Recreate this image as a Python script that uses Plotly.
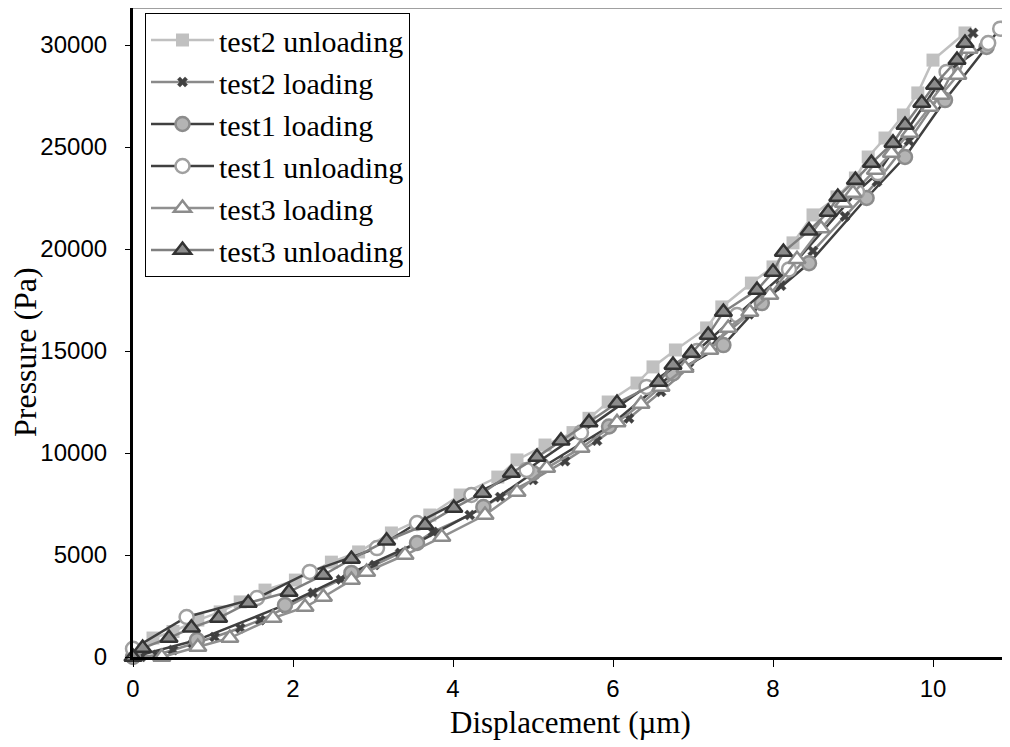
import plotly.graph_objects as go

# ---- data (Displacement in µm, Pressure in Pa) ----
t2u_x = [0.25, 0.5, 0.81, 1.09, 1.34, 1.65, 2.03, 2.48, 2.82, 3.23, 3.71, 4.09, 4.56, 4.8, 5.15, 5.5, 5.7, 5.94,
         6.3, 6.5, 6.78, 7.17, 7.36, 7.73, 8.0, 8.25, 8.5, 8.8, 9.03, 9.19, 9.4, 9.63, 9.81, 10.0, 10.4]
t2u_y = [930, 1250, 1810, 2210, 2700, 3280, 3770, 4650, 5150, 6080, 6960, 7940, 8820, 9660, 10390, 11000, 11700, 12500,
         13430, 14220, 15050, 16130, 17160, 18330, 19120, 20300, 21670, 22550, 23480, 24510, 25440, 26570, 27650, 29260, 30590]

t2l_x = [0.1, 0.3, 0.5, 0.75, 1.02, 1.34, 1.59, 1.9, 2.25, 2.6, 3.02, 3.34, 3.75, 4.21, 4.59, 5.0, 5.4, 5.8,
         6.2, 6.6, 6.95, 7.3, 7.7, 8.1, 8.5, 8.9, 9.3, 9.7, 10.1, 10.5]
t2l_y = [0, 100, 340, 650, 980, 1420, 1810, 2400, 3140, 3800, 4510, 5100, 6130, 6960, 7840, 8680, 9600, 10600,
         11700, 13000, 14200, 15500, 16800, 18200, 19900, 21600, 23300, 25300, 27600, 30590]

t1l_x = [0.0, 0.8, 1.9, 2.73, 3.55, 4.38, 5.0, 5.95, 6.75, 7.38, 7.86, 8.45, 9.17, 9.65, 10.15, 10.67]
t1l_y = [0, 830, 2550, 4120, 5590, 7350, 9020, 11300, 13900, 15290, 17350, 19300, 22500, 24510, 27300, 29900]

t1u_x = [0.0, 0.67, 1.55, 2.21, 3.05, 3.55, 4.23, 4.92, 5.6, 6.42, 7.05, 7.55, 8.2, 9.05, 9.31, 10.17, 10.69, 10.84]
t1u_y = [400, 1960, 2890, 4170, 5340, 6570, 7940, 9170, 11000, 13240, 15000, 16760, 19000, 22800, 23720, 28680, 30100, 30800]

t3l_x = [0.36, 0.81, 1.21, 1.75, 2.15, 2.38, 2.73, 2.92, 3.4, 3.86, 4.4, 4.8, 5.17, 5.6, 6.05, 6.35, 6.6, 6.9,
         7.21, 7.44, 7.71, 7.96, 8.3, 8.6, 8.88, 9.0, 9.28, 9.48, 9.71, 9.96, 10.1, 10.31, 10.45]
t3l_y = [0, 490, 930, 1910, 2450, 2940, 3770, 4170, 5000, 5880, 6960, 8090, 9260, 10250, 11500, 12400, 13240, 14170,
         15050, 16130, 16910, 17750, 19500, 21000, 22250, 22740, 23870, 24700, 25690, 26960, 27550, 28530, 29800]

t3u_x = [0.0, 0.12, 0.45, 0.73, 1.07, 1.44, 1.95, 2.38, 2.73, 3.17, 3.65, 4.01, 4.37, 4.73, 5.05, 5.35, 5.7, 6.05,
         6.57, 6.75, 6.98, 7.19, 7.38, 7.8, 8.0, 8.13, 8.45, 8.69, 8.81, 9.03, 9.23, 9.5, 9.65, 9.86, 10.02, 10.3, 10.4]
t3u_y = [0, 440, 930, 1430, 1910, 2650, 3190, 4020, 4800, 5700, 6470, 7300, 8040, 9020, 9800, 10600, 11500, 12450,
         13480, 14310, 14900, 15780, 16910, 17990, 18870, 19850, 20900, 21810, 22550, 23380, 24210, 25200, 26080, 27160, 28040, 29260, 30100]

x_ticks = [0, 2, 4, 6, 8, 10]
y_ticks = [0, 5000, 10000, 15000, 20000, 25000, 30000]
x_title = "Displacement (µm)"
y_title = "Pressure (Pa)"

fig = go.Figure()

def add(name, xs, ys, line_color, symbol, size, fill, edge, edge_w):
    fig.add_trace(go.Scatter(
        x=xs, y=ys, name=name, mode="lines+markers", cliponaxis=False,
        line=dict(color=line_color, width=2.5),
        marker=dict(symbol=symbol, size=size, color=fill, line=dict(color=edge, width=edge_w)),
    ))

add("test2 unloading", t2u_x, t2u_y, "#c0c0c0", "square", 13, "#c0c0c0", "#c0c0c0", 0)
add("test2 loading", t2l_x, t2l_y, "#8a8a8a", "x", 9, "#404040", "#404040", 0.5)
add("test1 loading", t1l_x, t1l_y, "#404040", "circle", 14, "#b4b4b4", "#8c8c8c", 2.5)
add("test1 unloading", t1u_x, t1u_y, "#404040", "circle", 14, "#ffffff", "#a0a0a0", 2.5)
add("test3 loading", t3l_x, t3l_y, "#909090", "triangle-up", 15, "#ffffff", "#8c8c8c", 2.5)
add("test3 unloading", t3u_x, t3u_y, "#808080", "triangle-up", 15, "#8c8c8c", "#333333", 2.5)

# page body adds an 8px offset, so the figure is sized to fill the rest of the window
OFF = 8
W, H = 1010 - OFF, 747 - OFF
ml, mr, mt, mb = 133 - OFF, 2, 0, 90
pw, ph = W - ml - mr, H - mt - mb

fig.update_layout(
    width=W, height=H,
    margin=dict(l=ml, r=mr, t=mt, b=mb, pad=0),
    paper_bgcolor="white", plot_bgcolor="white",
    showlegend=True,
    legend=dict(
        x=(145 - OFF - ml) / pw, y=1 - (13 - OFF - mt) / ph,
        xanchor="left", yanchor="top",
        bgcolor="white", bordercolor="black", borderwidth=1,
        font=dict(family="Liberation Serif", size=30, color="black"),
        itemwidth=63, tracegroupgap=0,
    ),
    xaxis=dict(
        range=[0, pw / 80.0], tickvals=x_ticks, ticktext=[str(v) for v in x_ticks],
        showgrid=False, zeroline=False, showline=True, linecolor="black", linewidth=2.5,
        ticks="outside", ticklen=7, tickwidth=1, tickcolor="black", ticklabelstandoff=1,
        tickfont=dict(family="Liberation Sans", size=24, color="black"),
    ),
    yaxis=dict(
        range=[0, ph / 0.0204], tickvals=y_ticks, ticktext=[str(v) + "\u00a0\u00a0" for v in y_ticks],
        showgrid=False, zeroline=False, showline=True, linecolor="black", linewidth=2.5,
        ticks="outside", ticklen=5, tickwidth=1, tickcolor="black",
        tickfont=dict(family="Liberation Sans", size=24, color="black"),
    ),
    annotations=[
        dict(text=x_title, xref="paper", yref="paper", x=0.5, y=-(722 - OFF - (mt + ph)) / ph,
             xanchor="center", yanchor="middle", showarrow=False,
             font=dict(family="Liberation Serif", size=31, color="black")),
        dict(text=y_title, xref="paper", yref="paper", x=-(ml - (25 - OFF)) / pw, y=1 - (352 - OFF - mt) / ph,
             xanchor="center", yanchor="middle", showarrow=False, textangle=-90,
             font=dict(family="Liberation Serif", size=32, color="black")),
    ],
    shapes=[dict(type="line", xref="paper", yref="paper", x0=0, x1=1, y0=1, y1=1,
                 line=dict(color="#808080", width=1.5))],
)

fig.write_html("out.html")
